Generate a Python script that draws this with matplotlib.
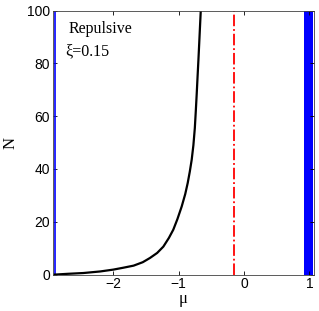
import matplotlib
matplotlib.use("Agg")
import matplotlib.pyplot as plt

# values
mu = [-2.90, -2.70, -2.46, -2.2, -2.0, -1.85, -1.69, -1.55, -1.44, -1.33, -1.235,
      -1.15, -1.083, -1.02, -0.954, -0.90, -0.862, -0.83, -0.801, -0.775,
      -0.753, -0.738, -0.724, -0.711, -0.698, -0.686, -0.674, -0.662]
N = [0.0, 0.3, 0.6, 1.2, 1.9, 2.6, 3.4, 4.7, 6.3, 8.2, 10.6,
     13.9, 17.0, 21.0, 25.8, 30.5, 34.7, 39.0, 43.5, 49.0,
     55.5, 62.0, 68.5, 75.0, 81.3, 87.5, 93.8, 100.0]

mu_left_line = -2.90       # thin blue line
band = (0.92, 1.05)        # blue band
mu_red = -0.15             # dash-dot line
xlim = (-2.93, 1.07)
ylim = (0, 100)
xticks = [-2, -1, 0, 1]
yticks = [0, 20, 40, 60, 80, 100]

fig = plt.figure(figsize=(3.19, 3.11), dpi=100)
ax = fig.add_axes([0.165, 0.117, 0.819, 0.849])

ax.axvline(mu_left_line, color="blue", lw=1.2)
ax.axvspan(band[0], band[1], color="blue", lw=0)
ax.plot(mu, N, color="black", lw=1.6, solid_joinstyle="round")
ax.axvline(mu_red, color="red", lw=1.3, ls="-.")

ax.set_xlim(*xlim)
ax.set_ylim(*ylim)
ax.set_xticks(xticks)
ax.set_xticklabels(["\u22122", "\u22121", "0", "1"])
ax.set_yticks(yticks)
ax.tick_params(direction="in", top=True, right=True, length=3, width=0.6,
               labelsize=10, pad=2)
for lab in ax.get_xticklabels() + ax.get_yticklabels():
    lab.set_fontfamily("Liberation Sans")
for s in ax.spines.values():
    s.set_linewidth(0.6)
    s.set_color("#404040")

ax.set_xlabel("\u03bc", family="Liberation Serif", fontsize=12, labelpad=0)
ax.set_ylabel("N", family="Liberation Serif", fontsize=12, labelpad=6)

ax.text(0.06, 0.93, "Repulsive", transform=ax.transAxes, family="Liberation Serif",
        fontsize=11.5, va="center")
ax.text(0.05, 0.845, "\u03be=0.15", transform=ax.transAxes, family="Liberation Serif",
        fontsize=11.5, va="center")

fig.savefig("out.png", dpi=100)
